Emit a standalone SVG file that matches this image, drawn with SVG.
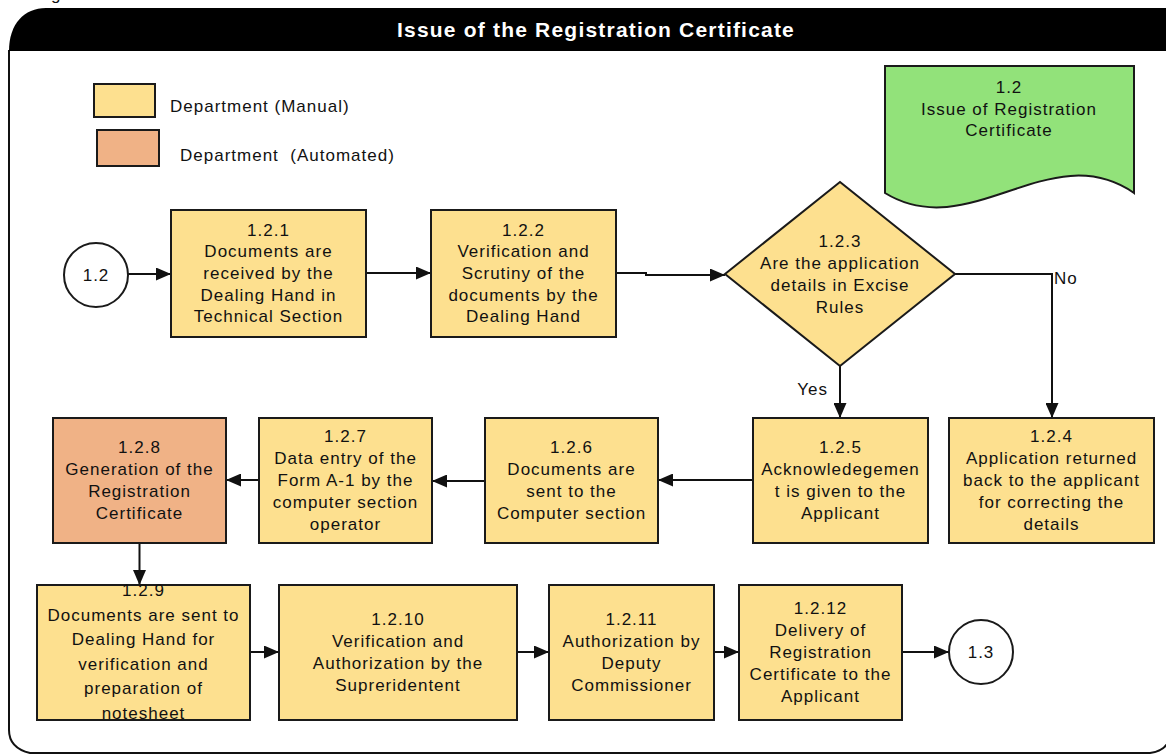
<svg xmlns="http://www.w3.org/2000/svg" width="1166" height="756" viewBox="0 0 1166 756">
  <style>
    .t { font-family: "Liberation Sans", Arial, sans-serif; font-size: 17px; letter-spacing: 1px; fill: #111; text-anchor: middle; }
    .l { font-family: "Liberation Sans", Arial, sans-serif; font-size: 17px; letter-spacing: 1px; fill: #111; white-space: pre; }
    .title { font-family: "Liberation Sans", Arial, sans-serif; font-size: 21px; font-weight: bold; letter-spacing: 1.2px; fill: #fff; text-anchor: middle; }
    .manual { fill: #fde08f; stroke: #1a1a1a; stroke-width: 2; }
    .auto { fill: #f0b286; stroke: #1a1a1a; stroke-width: 2; }
    .term { fill: #fff; stroke: #1a1a1a; stroke-width: 2; }
    .conn { fill: none; stroke: #111; stroke-width: 2; }
  </style>
  <defs>
    <marker id="arrow" markerUnits="userSpaceOnUse" markerWidth="15" markerHeight="13" refX="15" refY="6.5" orient="auto">
      <path d="M0,0 L15,6.5 L0,13 Z" fill="#111"/>
    </marker>
  </defs>

  <rect width="1166" height="756" fill="#fff"/>
  <!-- clipped caption glyph above the frame -->
  <text class="l" x="51" y="-0.5">g</text>

  <!-- frame and header band -->
  <g id="frame">
    <path d="M9,50 V730 Q9,748 30,753 H1150 Q1170,750 1170,733 V50" fill="none" stroke="#111" stroke-width="2"/>
    <path d="M9,51 C9,24 24,8 46,8 H1170 V51 Z" fill="#000"/>
    <text class="title" x="596" y="37">Issue of the Registration Certificate</text>
  </g>

  <!-- legend -->
  <g id="legend">
    <rect class="manual" x="94" y="84" width="61" height="33"/>
    <text class="l" x="170" y="112">Department (Manual)</text>
    <rect class="auto" x="97" y="130" width="62" height="36"/>
    <text class="l" x="180" y="161">Department  (Automated)</text>
  </g>

  <!-- process document tag -->
  <g id="process-1-2">
    <path d="M885,66 H1134 V193 C1050,135 970,245 885,193 Z" fill="#92e27a" stroke="#1a1a1a" stroke-width="2"/>
    <text class="t" x="1009" y="93">1.2</text>
    <text class="t" x="1009" y="114.5">Issue of Registration</text>
    <text class="t" x="1009" y="136">Certificate</text>
  </g>

  <g id="connectors">
    <path class="conn" marker-end="url(#arrow)" d="M128,274 H171"/>
    <path class="conn" marker-end="url(#arrow)" d="M366,273 H431"/>
    <path class="conn" marker-end="url(#arrow)" d="M616,273 H646 V275 H725"/>
    <path class="conn" marker-end="url(#arrow)" d="M840,366 V418"/>
    <path class="conn" marker-end="url(#arrow)" d="M955,274 H1052 V418"/>
    <path class="conn" marker-end="url(#arrow)" d="M753,480 H658"/>
    <path class="conn" marker-end="url(#arrow)" d="M485,481 H432"/>
    <path class="conn" marker-end="url(#arrow)" d="M259,480 H226"/>
    <path class="conn" marker-end="url(#arrow)" d="M139.5,543 V585"/>
    <path class="conn" marker-end="url(#arrow)" d="M250,652 H279"/>
    <path class="conn" marker-end="url(#arrow)" d="M517,652 H549"/>
    <path class="conn" marker-end="url(#arrow)" d="M714,652 H739"/>
    <path class="conn" marker-end="url(#arrow)" d="M902,652 H949"/>
    <text class="l" x="828" y="395" text-anchor="end">Yes</text>
    <text class="l" x="1054" y="284">No</text>
  </g>

  <g id="start-1-2">
    <circle class="term" cx="96" cy="275" r="32"/>
    <text class="t" x="96" y="281">1.2</text>
  </g>

  <g id="step-1-2-1">
    <rect class="manual" x="171" y="210" width="195" height="127"/>
    <text class="t" x="268.5" y="235.6">1.2.1</text>
    <text class="t" x="268.5" y="257.3">Documents are</text>
    <text class="t" x="268.5" y="279">received by the</text>
    <text class="t" x="268.5" y="300.7">Dealing Hand in</text>
    <text class="t" x="268.5" y="322.4">Technical Section</text>
  </g>

  <g id="step-1-2-2">
    <rect class="manual" x="431" y="210" width="185" height="127"/>
    <text class="t" x="523.5" y="235.6">1.2.2</text>
    <text class="t" x="523.5" y="257.3">Verification and</text>
    <text class="t" x="523.5" y="279">Scrutiny of the</text>
    <text class="t" x="523.5" y="300.7">documents by the</text>
    <text class="t" x="523.5" y="322.4">Dealing Hand</text>
  </g>

  <g id="step-1-2-3">
    <polygon class="manual" points="725,274 840,182 955,274 840,366"/>
    <text class="t" x="840" y="247">1.2.3</text>
    <text class="t" x="840" y="269">Are the application</text>
    <text class="t" x="840" y="291">details in Excise</text>
    <text class="t" x="840" y="313">Rules</text>
  </g>

  <g id="step-1-2-4">
    <rect class="manual" x="949" y="418" width="205" height="125"/>
    <text class="t" x="1051.5" y="442">1.2.4</text>
    <text class="t" x="1051.5" y="464">Application returned</text>
    <text class="t" x="1051.5" y="486">back to the applicant</text>
    <text class="t" x="1051.5" y="508">for correcting the</text>
    <text class="t" x="1051.5" y="530">details</text>
  </g>

  <g id="step-1-2-5">
    <rect class="manual" x="753" y="418" width="175" height="125"/>
    <text class="t" x="840.5" y="453">1.2.5</text>
    <text class="t" x="840.5" y="475">Acknowledegemen</text>
    <text class="t" x="840.5" y="497">t is given to the</text>
    <text class="t" x="840.5" y="519">Applicant</text>
  </g>

  <g id="step-1-2-6">
    <rect class="manual" x="485" y="418" width="173" height="125"/>
    <text class="t" x="571.5" y="453">1.2.6</text>
    <text class="t" x="571.5" y="475">Documents are</text>
    <text class="t" x="571.5" y="497">sent to the</text>
    <text class="t" x="571.5" y="519">Computer section</text>
  </g>

  <g id="step-1-2-7">
    <rect class="manual" x="259" y="418" width="173" height="125"/>
    <text class="t" x="345.5" y="442">1.2.7</text>
    <text class="t" x="345.5" y="464">Data entry of the</text>
    <text class="t" x="345.5" y="486">Form A-1 by the</text>
    <text class="t" x="345.5" y="508">computer section</text>
    <text class="t" x="345.5" y="530">operator</text>
  </g>

  <g id="step-1-2-8">
    <rect class="auto" x="53" y="418" width="173" height="125"/>
    <text class="t" x="139.5" y="453">1.2.8</text>
    <text class="t" x="139.5" y="475">Generation of the</text>
    <text class="t" x="139.5" y="497">Registration</text>
    <text class="t" x="139.5" y="519">Certificate</text>
  </g>

  <g id="step-1-2-9">
    <rect class="manual" x="37" y="585" width="213" height="135"/>
    <text class="t" x="143.5" y="596">1.2.9</text>
    <text class="t" x="143.5" y="620.5">Documents are sent to</text>
    <text class="t" x="143.5" y="645">Dealing Hand for</text>
    <text class="t" x="143.5" y="669.5">verification and</text>
    <text class="t" x="143.5" y="694">preparation of</text>
    <text class="t" x="143.5" y="718.5">notesheet</text>
  </g>

  <g id="step-1-2-10">
    <rect class="manual" x="279" y="585" width="238" height="135"/>
    <text class="t" x="398" y="625">1.2.10</text>
    <text class="t" x="398" y="647">Verification and</text>
    <text class="t" x="398" y="669">Authorization by the</text>
    <text class="t" x="398" y="691">Supreridentent</text>
  </g>

  <g id="step-1-2-11">
    <rect class="manual" x="549" y="585" width="165" height="135"/>
    <text class="t" x="631.5" y="625">1.2.11</text>
    <text class="t" x="631.5" y="647">Authorization by</text>
    <text class="t" x="631.5" y="669">Deputy</text>
    <text class="t" x="631.5" y="691">Commissioner</text>
  </g>

  <g id="step-1-2-12">
    <rect class="manual" x="739" y="585" width="163" height="135"/>
    <text class="t" x="820.5" y="614">1.2.12</text>
    <text class="t" x="820.5" y="636">Delivery of</text>
    <text class="t" x="820.5" y="658">Registration</text>
    <text class="t" x="820.5" y="680">Certificate to the</text>
    <text class="t" x="820.5" y="702">Applicant</text>
  </g>

  <g id="end-1-3">
    <circle class="term" cx="981" cy="652" r="32"/>
    <text class="t" x="981" y="658">1.3</text>
  </g>
</svg>
